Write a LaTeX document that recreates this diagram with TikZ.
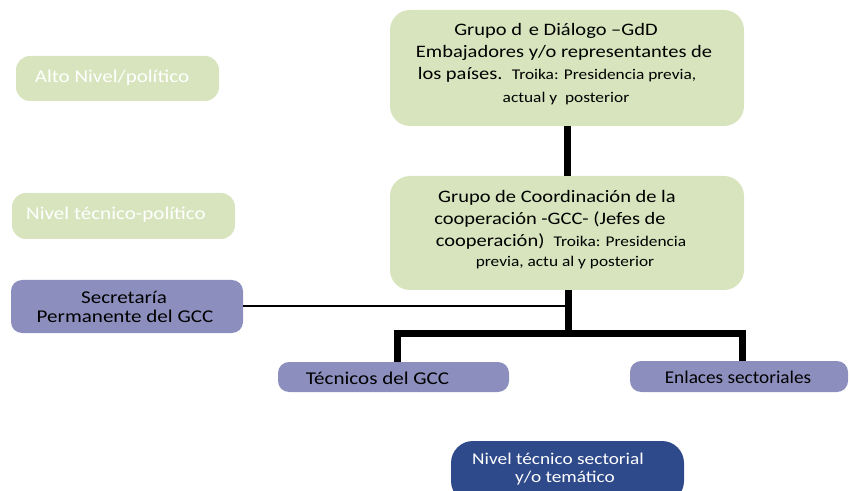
\documentclass[tikz,border=0pt]{standalone}
\usepackage{fontspec}
\setmainfont{Carlito}
\definecolor{lgreen}{HTML}{D7E4BD}
\definecolor{lpurple}{HTML}{8C8FBE}
\definecolor{dblue}{HTML}{2E4A8A}
\newcommand\hsx[1]{\scalebox{1.17}[1]{#1}}
\newcommand\bgfnt{\fontsize{17.5}{22}\selectfont}
\newcommand\smfnt{\fontsize{14.8}{22}\selectfont}
\begin{document}
\begin{tikzpicture}[x=1pt,y=1pt,
  bigbox/.style={fill=lgreen,draw=none,rounded corners=20pt,minimum width=354pt,inner sep=0pt},
  lvlbox/.style={fill=lgreen,draw=none,rounded corners=14pt,inner sep=0pt},
  pbox/.style={fill=lpurple,draw=none,rounded corners=11pt,inner sep=0pt},
  txt/.style={inner sep=0pt,anchor=center},
  wtxt/.style={txt,text=white,font=\fontsize{18}{20}\selectfont},
  ptxt/.style={txt,font=\fontsize{18}{20}\selectfont},
  thick line/.style={line width=7pt,black},
  thin line/.style={line width=2pt,black}]
\useasboundingbox (0,0) rectangle (850,490);
\clip (0,0) rectangle (850,490);
% big boxes
\node[bigbox,minimum height=116pt] (gdd) at (567,422) {};
\node[txt] (gdd1) at (556,459) {\hsx{\bgfnt Grupo d\,\,e Diálogo –GdD}};
\node[txt] (gdd2) at (564,437) {\hsx{\bgfnt Embajadores y/o representantes de}};
\node[txt] (gdd3) at (557,415) {\hsx{\bgfnt los países.\ \ \smfnt Troika: Presidencia previa,}};
\node[txt] (gdd4) at (566,391) {\hsx{\smfnt actual y\ \ posterior}};
\node[bigbox,minimum height=114pt] (gcc) at (567,257) {};
\node[txt] (gcc1) at (557,292) {\hsx{\bgfnt Grupo de Coordinación de la}};
\node[txt] (gcc2) at (550,270) {\hsx{\bgfnt cooperación -GCC- (Jefes de}};
\node[txt] (gcc3) at (561,248) {\hsx{\bgfnt cooperación)\ \ \smfnt Troika: Presidencia}};
\node[txt] (gcc4) at (565,227) {\hsx{\smfnt previa, actu al y posterior}};
% level boxes
\node[lvlbox,minimum width=203pt,minimum height=45pt] (alto) at (117.5,411.5) {};
\node[wtxt] (altot) at (112,412) {\hsx{Alto Nivel/político}};
\node[lvlbox,minimum width=223pt,minimum height=46pt] (ntp) at (123.5,274) {};
\node[wtxt] (ntpt) at (116,275) {\hsx{Nivel técnico-político}};
\node[pbox,minimum width=232pt,minimum height=53pt] (sec) at (127,183.5) {};
\node[ptxt] (sec1) at (124,193) {\hsx{Secretaría}};
\node[ptxt] (sec2) at (125,174) {\hsx{Permanente del GCC}};
\node[pbox,minimum width=231pt,minimum height=30pt] (tec) at (393.5,113) {};
\node[ptxt] (tect) at (377.5,112) {\hsx{Técnicos del GCC}};
\node[pbox,minimum width=218pt,minimum height=31pt] (enl) at (739,113.5) {};
\node[ptxt] (enlt) at (738,113) {\scalebox{1.07}[1]{Enlaces sectoriales}};
\node[pbox,fill=dblue,minimum width=233pt,minimum height=62pt,rounded corners=22pt] (nts) at (567.5,18) {};
\node[wtxt,font=\fontsize{16.5}{20}\selectfont] (nts1) at (558,31) {\hsx{Nivel técnico sectorial}};
\node[wtxt,font=\fontsize{16.5}{20}\selectfont] (nts2) at (565,12) {\hsx{y/o temático}};
% connectors
\draw[thick line] (gdd.south) -- (gcc.north);
\coordinate (j) at (568,157);
\coordinate (jt) at (397,157);
\coordinate (je) at (742,157);
\draw[thick line] (gcc.south -| j) -- (j);
\draw[thick line,line join=miter] (tec.north -| jt) -- (jt) -- (je) -- (enl.north -| je);
\draw[thin line] (sec.east) -- (sec.east -| j);
\end{tikzpicture}
\end{document}
